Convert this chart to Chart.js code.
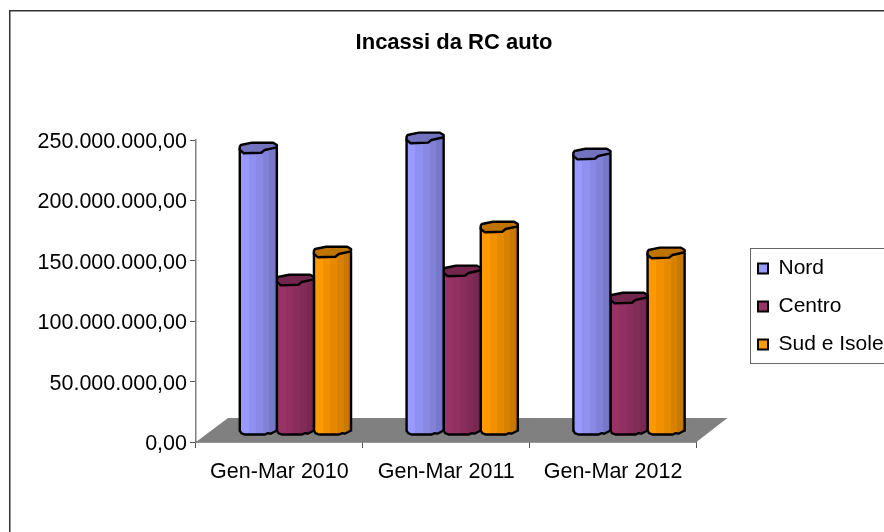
<!DOCTYPE html>
<html>
<head>
<meta charset="utf-8">
<style>html,body{margin:0;padding:0;background:#fff}canvas{display:block}</style>
<script src="https://cdn.jsdelivr.net/npm/chart.js@4/dist/chart.umd.min.js"></script>
</head>
<body>
<canvas id="c" width="884" height="532"></canvas>
<script>
const categories = ['Gen-Mar 2010', 'Gen-Mar 2011', 'Gen-Mar 2012'];
const seriesNames = ['Nord', 'Centro', 'Sud e Isole'];
const nord = [235100000, 243400000, 230100000];
const centro = [125800000, 133300000, 110900000];
const sud = [149000000, 169700000, 148200000];
const yMax = 250000000;
const yStep = 50000000;

const FONT = '"Liberation Sans", Arial, sans-serif';
const light = [[153,153,255], [153,51,102], [255,153,0]];
const dark = [[114,114,191], [115,38,77], [191,115,0]];
const DX = 16, DY = -10;
// Irregular outline of the pseudo-cylinder ends (fraction of width, px offset)
const capShape = [[0,-1.3],[0.03,-3],[0.33,-5.3],[0.9,-5.3],[1,-3],[1,-0.7],[0.67,2],[0.58,4.7],[0.11,5.3],[0,2]];
const baseShape = [[0,-1],[0.04,1.6],[0.13,3],[0.68,3],[0.76,1.6],[0.83,2.2],[1,-1]];
const bands = [[0,0],[0.24,0.22],[0.44,0.42],[0.62,0.62],[0.8,0.85],[0.92,1],[1,1]];

function css(c){ return 'rgb(' + c.join(',') + ')'; }
function mix(a, b, t){ return a.map((v, k) => Math.round(v + (b[k] - v) * t)); }
function fmt(v){
  const s = Math.round(v).toString().replace(/\B(?=(\d{3})+(?!\d))/g, '.');
  return s + ',00';
}
function barFill(ctx){
  const i = ctx.datasetIndex, c = ctx.chart, sx = c.scales && c.scales.x;
  if (ctx.dataIndex === undefined || !sx) return css(light[i]);
  const w = sx.width / categories.length * 0.667 / seriesNames.length;
  const cx = sx.getPixelForValue(ctx.dataIndex) + (i - 1) * w;
  const g = c.ctx.createLinearGradient(cx - w / 2, 0, cx + w / 2, 0);
  for (let k = 0; k < bands.length - 1; k++) {
    const col = css(mix(light[i], dark[i], bands[k][1]));
    g.addColorStop(bands[k][0], col);
    g.addColorStop(bands[k + 1][0], col);
  }
  return g;
}
function path(ctx, pts, close){
  ctx.beginPath();
  pts.forEach((p, k) => k ? ctx.lineTo(p[0], p[1]) : ctx.moveTo(p[0], p[1]));
  if (close) ctx.closePath();
}
const chrome = {
  id: 'chrome',
  afterLayout(chart){
    const lg = chart.legend;
    lg.left = 741; lg.top = 241; lg.right = 900; lg.bottom = 400;
    const t = chart.titleBlock;
    t.left = 24; t.right = 884;
  },
  beforeDraw(chart){
    const ctx = chart.ctx;
    ctx.save();
    ctx.fillStyle = '#fff';
    ctx.fillRect(0, 0, 884, 532);
    ctx.strokeStyle = '#333';
    ctx.lineWidth = 1.5;
    ctx.strokeRect(9.75, 10.75, 1000, 1000);
    ctx.restore();
  },
  beforeDatasetsDraw(chart){
    const ctx = chart.ctx, a = chart.chartArea;
    ctx.save();
    ctx.fillStyle = '#808080';
    path(ctx, [[a.left, a.bottom], [a.left + 32, a.bottom - 24], [a.right + 31, a.bottom - 24], [a.right, a.bottom]], true);
    ctx.fill();
    ctx.restore();
  },
  beforeDatasetDraw(chart){
    chart.ctx.save();
    chart.ctx.translate(DX, DY);
  },
  afterDatasetDraw(chart, args){
    const ctx = chart.ctx, i = args.index;
    chart.getDatasetMeta(i).data.forEach(el => {
      const x0 = el.x - el.width / 2, w = el.width;
      ctx.lineJoin = 'round';
      ctx.lineWidth = 2.4;
      ctx.strokeStyle = '#000';
      // bottom end
      const base = baseShape.map(p => [x0 + p[0] * w, el.base + p[1]]);
      path(ctx, base, true);
      ctx.fillStyle = el.options.backgroundColor;
      ctx.fill();
      path(ctx, base, false);
      ctx.stroke();
      // sides
      ctx.beginPath();
      ctx.moveTo(x0, el.y); ctx.lineTo(x0, el.base);
      ctx.moveTo(x0 + w, el.y); ctx.lineTo(x0 + w, el.base);
      ctx.stroke();
      // top cap
      path(ctx, capShape.map(p => [x0 + p[0] * w, el.y + p[1]]), true);
      ctx.fillStyle = css(dark[i]);
      ctx.fill();
      ctx.stroke();
    });
    ctx.restore();
  },
  afterDraw(chart){
    const ctx = chart.ctx;
    ctx.save();
    ctx.strokeStyle = '#666';
    ctx.lineWidth = 1;
    ctx.strokeRect(750.5, 248.5, 300, 115);
    ctx.restore();
  }
};
const seriesValues = [nord, centro, sud];
new Chart(document.getElementById('c'), {
  type: 'bar',
  data: {
    labels: categories,
    datasets: seriesNames.map((name, i) => ({
      label: name,
      data: seriesValues[i],
      backgroundColor: barFill,
      borderWidth: 0,
      barPercentage: 1,
      categoryPercentage: 0.667
    }))
  },
  plugins: [chrome],
  options: {
    responsive: false,
    animation: false,
    layout: { padding: { left: 0, right: 35, top: 0, bottom: 0 } },
    plugins: {
      tooltip: { enabled: false },
      title: {
        display: true,
        text: 'Incassi da RC auto',
        color: '#000',
        font: { family: FONT, size: 22, weight: 'bold' },
        padding: { top: 29.5, bottom: 84.1 }
      },
      legend: {
        position: 'right',
        align: 'start',
        labels: {
          color: '#000',
          font: { family: FONT, size: 21 },
          boxWidth: 10,
          boxHeight: 10,
          padding: 17,
          generateLabels: () => seriesNames.map((n, i) => ({
            text: n, fillStyle: css(light[i]), strokeStyle: '#000', lineWidth: 2, datasetIndex: i
          }))
        }
      }
    },
    scales: {
      x: {
        offset: true,
        grid: { offset: true, drawOnChartArea: false, drawTicks: true, tickLength: 6, color: '#555' },
        border: { color: '#333', width: 1.5 },
        ticks: { color: '#000', font: { family: FONT, size: 21.5 }, padding: 11, maxRotation: 0 },
        afterFit(s){ s.height = 90; }
      },
      y: {
        min: 0,
        max: yMax,
        grid: { drawOnChartArea: false, tickLength: 6, color: '#555' },
        border: { color: '#808080', width: 1.5 },
        ticks: { stepSize: yStep, color: '#000', font: { family: FONT, size: 21.5 }, padding: 3, labelOffset: 2, callback: v => fmt(v) },
        afterFit(s){ s.width = 196; }
      }
    }
  }
});
</script>
</body>
</html>
